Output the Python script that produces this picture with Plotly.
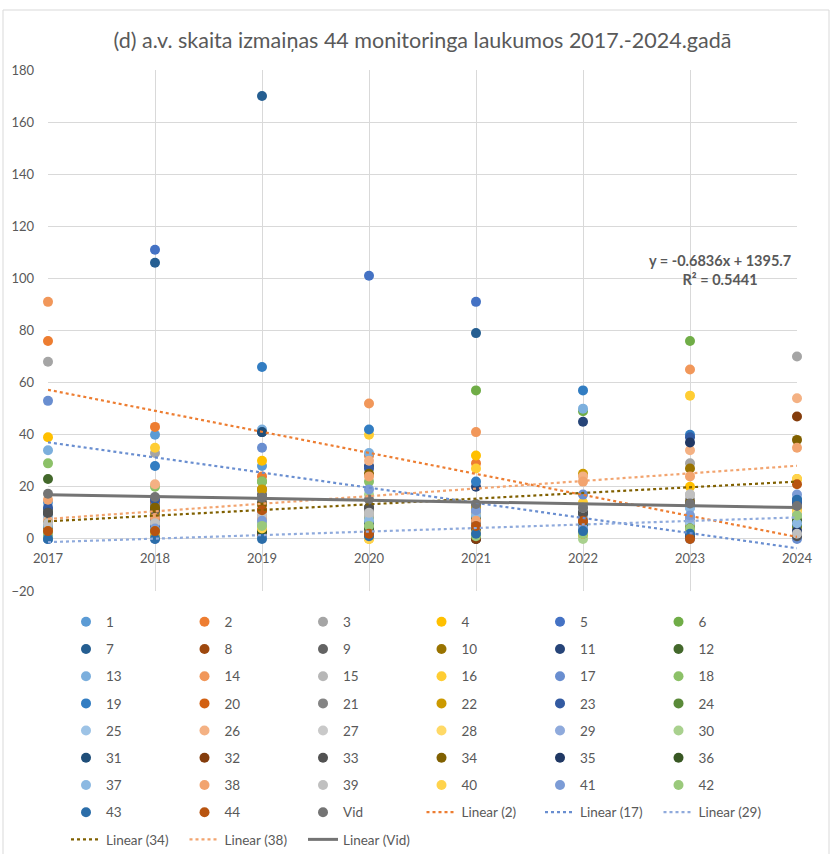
import colorsys
import numpy as np
import plotly.graph_objects as go

# ---------------- data ----------------
years = [2017, 2018, 2019, 2020, 2021, 2022, 2023, 2024]
year_labels = ["2017", "2018", "2019", "2020", "2021", "2022", "2023", "2024"]
y_ticks = [-20, 0, 20, 40, 60, 80, 100, 120, 140, 160, 180]

title_text = "(d) a.v. skaita izmaiņas 44 monitoringa laukumos 2017.-2024.gadā"
equation_text = "y = -0.6836x + 1395.7"
r2_text = "R² = 0.5441"

s01 = [14, 40, 28, 6, 3, 12, 12, 15]
s02 = [76, 43, 24, 32, 29, 10, 6, 12]
s03 = [68, 33, 9, 8, 10, 12, 29, 70]
s04 = [39, 6, 30, 0, 32, 2, 20, 23]
s05 = [1, 111, 2, 101, 91, 3, 1, 5]
s06 = [5, 4, 22, 8, 57, 49, 76, 5]
s07 = [0, 106, 170, 1, 79, 3, 2, 14]
s08 = [2, 5, 11, 3, 0, 4, 3, 2]
s09 = [11, 9, 17, 12, 9, 10, 8, 1]
s10 = [4, 12, 19, 10, 7, 8, 27, 4]
s11 = [6, 14, 41, 28, 20, 45, 5, 11]
s12 = [23, 3, 3, 5, 8, 6, 4, 7]
s13 = [34, 7, 42, 33, 8, 50, 12, 6]
s14 = [91, 8, 6, 52, 41, 2, 65, 3]
s15 = [7, 6, 10, 9, 4, 12, 17, 2]
s16 = [10, 35, 5, 40, 27, 14, 55, 11]
s17 = [53, 14, 35, 4, 11, 17, 0, 0]
s18 = [29, 20, 22, 22, 6, 4, 3, 9]
s19 = [0, 28, 66, 42, 22, 57, 40, 15]
s20 = [3, 14, 11, 2, 5, 6, 1, 4]
s21 = [9, 13, 16, 11, 13, 9, 15, 3]
s22 = [5, 10, 19, 6, 12, 25, 5, 4]
s23 = [12, 15, 4, 27, 3, 3, 39, 14]
s24 = [4, 2, 3, 4, 7, 2, 4, 5]
s25 = [8, 5, 5, 6, 2, 8, 6, 3]
s26 = [7, 21, 8, 30, 7, 24, 34, 54]
s27 = [6, 5, 9, 7, 3, 11, 12, 2]
s28 = [2, 3, 6, 5, 9, 1, 3, 10]
s29 = [0, 0, 1, 3, 2, 5, 8, 9]
s30 = [1, 1, 6, 17, 1, 0, 4, 8]
s31 = [10, 8, 41, 2, 0, 10, 1, 6]
s32 = [4, 2, 2, 1, 0, 2, 3, 47]
s33 = [10, 11, 14, 12, 6, 10, 13, 1]
s34 = [6, 12, 13, 25, 4, 3, 14, 38]
s35 = [3, 5, 3, 6, 5, 3, 37, 3]
s36 = [5, 3, 3, 4, 8, 5, 4, 7]
s37 = [5, 6, 5, 7, 9, 4, 12, 6]
s38 = [15, 8, 8, 24, 7, 22, 24, 35]
s39 = [6, 6, 9, 10, 5, 12, 17, 2]
s40 = [3, 2, 4, 0, 2, 2, 3, 23]
s41 = [2, 4, 7, 19, 11, 4, 9, 17]
s42 = [2, 3, 5, 5, 1, 2, 4, 9]
s43 = [0, 0, 0, 1, 2, 3, 2, 15]
s44 = [3, 3, 11, 2, 5, 7, 0, 21]
vid = [17.3, 16.1, 15.8, 15.1, 13.4, 12.0, 13.6, 12.6]

site_series = [s01, s02, s03, s04, s05, s06, s07, s08, s09, s10, s11, s12,
               s13, s14, s15, s16, s17, s18, s19, s20, s21, s22, s23, s24,
               s25, s26, s27, s28, s29, s30, s31, s32, s33, s34, s35, s36,
               s37, s38, s39, s40, s41, s42, s43, s44]
site_names = [str(i) for i in range(1, 45)]
vid_name = "Vid"
trend_names = ["2", "17", "29", "34", "38", "Vid"]

# ---------------- styling ----------------
W, H = 835, 854
PL, PR, PT, PB = 48, 797, 70, 591          # plot area in pixels
PW, PH = PR - PL, PB - PT
TXT = "#595959"
GRID = "#D9D9D9"
FONT = "Lato"


def px_x(px):
    return (px - PL) / PW


def px_y(py):
    return (PB - py) / PH


accents = ["#5B9BD5", "#ED7D31", "#A5A5A5", "#FFC000", "#4472C4", "#70AD47"]
variants = [(1.0, 0.0), (0.6, 0.0), (0.8, 0.2), (0.8, 0.0),
            (0.6, 0.4), (0.5, 0.0), (0.7, 0.3), (0.7, 0.0)]


def series_color(i):
    g, a = (i - 1) // 6, (i - 1) % 6
    mod, off = variants[g]
    hx = accents[a].lstrip("#")
    r, gg, b = (int(hx[k:k + 2], 16) / 255 for k in (0, 2, 4))
    h, l, s = colorsys.rgb_to_hls(r, gg, b)
    l = min(1.0, l * mod + off)
    r, gg, b = colorsys.hls_to_rgb(h, l, s)
    return "rgb(%d,%d,%d)" % (round(r * 255), round(gg * 255), round(b * 255))


def legend_id(k):
    row = k // 6
    return "legend" if row == 0 else "legend%d" % (row + 1)


fig = go.Figure()
entry = 0
all_series = site_series + [vid]
all_names = site_names + [vid_name]
for i, (vals, nm) in enumerate(zip(all_series, all_names), start=1):
    fig.add_trace(go.Scatter(
        x=years, y=vals, mode="markers", name=nm,
        marker=dict(size=10, color=series_color(i), line=dict(width=0)),
        cliponaxis=False, legend=legend_id(entry)))
    entry += 1

lookup = dict(zip(all_names, all_series))
trend_styles = {"2": (series_color(2), "dot", 2.2),
                "17": (series_color(17), "dot", 2.2),
                "29": (series_color(29), "dot", 2.2),
                "34": (series_color(34), "dot", 2.2),
                "38": (series_color(38), "dot", 2.2),
                "Vid": (series_color(45), "solid", 3)}
xs = np.array([years[0], years[-1]], dtype=float)
for nm in trend_names:
    slope, icpt = np.polyfit(years, lookup[nm], 1)
    col, dash, wd = trend_styles[nm]
    fig.add_trace(go.Scatter(
        x=xs, y=slope * xs + icpt, mode="lines", name="Linear (%s)" % nm,
        line=dict(color=col, dash=dash, width=wd),
        cliponaxis=False, legend=legend_id(entry)))
    entry += 1

# legends: one per row
row_y = [622 + 27.2 * r for r in range(9)]
leg_common = dict(orientation="h", entrywidth=73.5, entrywidthmode="pixels",
                  xanchor="left", yanchor="middle", bgcolor="rgba(0,0,0,0)",
                  font=dict(family=FONT, size=13.5, color=TXT), itemwidth=30,
                  traceorder="normal")
layout_legends = {}
for r in range(9):
    key = "legend" if r == 0 else "legend%d" % (r + 1)
    layout_legends[key] = dict(leg_common, x=px_x(66), y=px_y(row_y[r]))

fig.update_layout(
    width=W, height=H,
    margin=dict(l=PL, r=W - PR, t=PT, b=H - PB, pad=0, autoexpand=False),
    paper_bgcolor="white", plot_bgcolor="white",
    font=dict(family=FONT, size=13, color=TXT),
    title=dict(text=title_text, x=0.5, xanchor="center", xref="paper",
               y=1 - 40 / H, yanchor="middle", yref="container",
               font=dict(family=FONT, size=21.5, color=TXT)),
    xaxis=dict(range=[years[0], years[-1]], tickvals=years, ticktext=year_labels,
               showgrid=True, gridcolor=GRID, gridwidth=1, zeroline=False,
               showline=False, ticks="", anchor="free",
               position=(0 - y_ticks[0]) / (y_ticks[-1] - y_ticks[0]),
               ticklabelstandoff=10,
               tickfont=dict(family=FONT, size=13, color=TXT)),
    yaxis=dict(range=[y_ticks[0], y_ticks[-1]], tickvals=y_ticks,
               showgrid=True, gridcolor=GRID, gridwidth=1, zeroline=False,
               showline=False, ticks="", ticklabelstandoff=13,
               tickfont=dict(family=FONT, size=13, color=TXT)),
    showlegend=True,
    **layout_legends,
)

fig.add_annotation(
    x=years[0] + (720 - PL) / PW * (years[-1] - years[0]),
    y=y_ticks[0] + (PB - 270) / PH * (y_ticks[-1] - y_ticks[0]),
    xref="x", yref="y", showarrow=False, align="center",
    text="<b>%s</b><br><b>%s</b>" % (equation_text, r2_text),
    font=dict(family=FONT, size=14.5, color=TXT))

fig.add_shape(type="rect", xref="paper", yref="paper",
              x0=px_x(3), x1=px_x(829), y0=px_y(870), y1=px_y(10),
              line=dict(color=GRID, width=1), fillcolor="rgba(0,0,0,0)",
              layer="below")

fig.write_html("out.html", config={"displayModeBar": False},
               post_script="document.body.style.margin='0';")
